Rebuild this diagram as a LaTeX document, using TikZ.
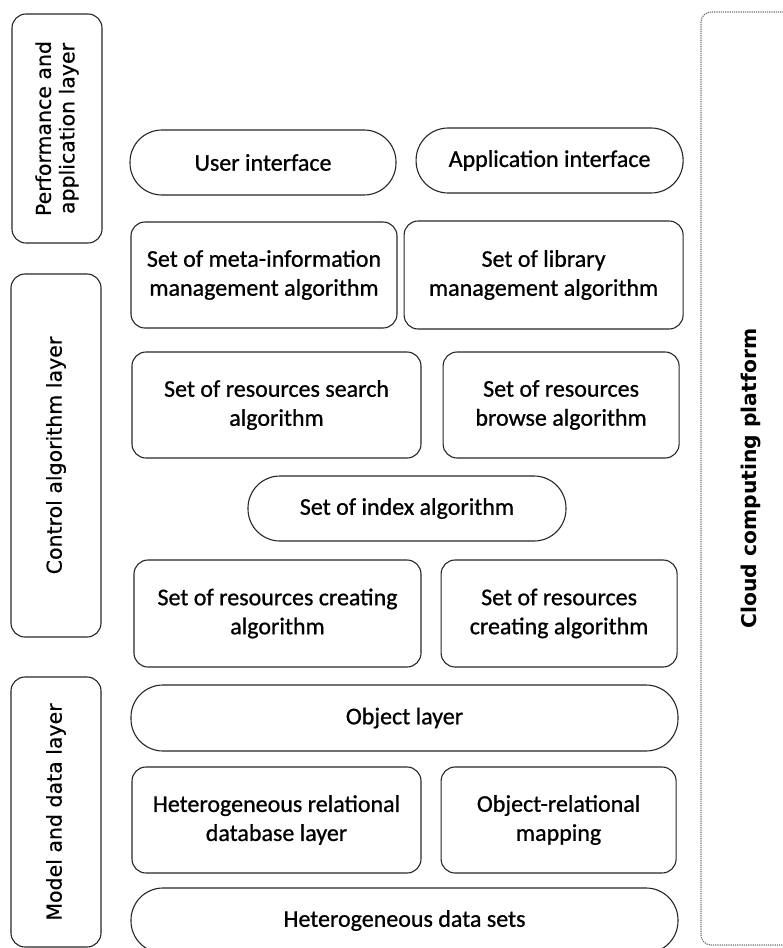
\documentclass[tikz,border=0pt]{standalone}
\usepackage{fontspec}
\setmainfont[FakeBold=0.8]{Carlito}
\newfontfamily\layerfont[FakeBold=0.4]{DejaVu Sans}
\newfontfamily\platformfont{DejaVu Sans}
\usetikzlibrary{positioning}

\begin{document}
\begin{tikzpicture}[
  x=1pt, y=-1pt,
  box/.style={
    draw=black!85,
    line width=1.1pt,
    align=center,
    inner sep=0pt,
    font=\fontsize{24}{29}\selectfont
  },
  algobox/.style={
    box,
    rounded corners=14pt
  },
  pill/.style={
    box,
    rounded corners=32pt,
    minimum height=65pt
  },
  layerbox/.style={
    box,
    rotate=90,
    rounded corners=14pt,
    minimum height=90pt,
    font=\layerfont\fontsize{20.5}{23.5}\selectfont
  },
  platform/.style={
    draw=black!55,
    densely dotted,
    line width=1.2pt,
    rotate=90,
    rounded corners=10pt,
    inner sep=0pt,
    font=\platformfont\bfseries\fontsize{20.3}{24}\selectfont
  }
]
\useasboundingbox (0,0) rectangle (783,948);

% layers on the left
\node[layerbox, minimum width=229pt] (perf) at (57,128.5) {Performance and\\application layer};
\node[layerbox, minimum width=363pt] (ctrl) at (56,455.5) {Control algorithm layer};
\node[layerbox, minimum width=270pt] (model) at (56,812) {Model and data layer};

% platform frame on the right
\node[platform, minimum width=933pt, minimum height=100pt] (cloud) at (751,478.5) {Cloud computing platform};

% performance and application layer
\node[pill, minimum width=266pt] (ui) at (263,162.5) {User interface};
\node[pill, minimum width=267pt, right=19pt of ui, yshift=2pt] (api) {Application interface};

% control algorithm layer
\node[algobox, minimum width=266pt, minimum height=106pt] (meta) at (264,275) {Set of meta-information\\management algorithm};
\node[algobox, minimum width=279pt, minimum height=108pt, right=6pt of meta] (lib) {Set of library\\management algorithm};
\node[algobox, minimum width=289pt, minimum height=106pt] (search) at (276.5,405) {Set of resources search\\algorithm};
\node[algobox, minimum width=236pt, minimum height=106pt, right=21pt of search] (browse) {Set of resources\\browse algorithm};
\node[pill, minimum width=318pt] (index) at (407,508.5) {Set of index algorithm};
\node[algobox, minimum width=287pt, minimum height=107pt] (create) at (277.5,613.5) {Set of resources creating\\algorithm};
\node[algobox, minimum width=236pt, minimum height=107pt, right=19pt of create] (create2) {Set of resources\\creating algorithm};

% model and data layer
\node[pill, minimum width=547pt, minimum height=66pt] (obj) at (404.5,718) {Object layer};
\node[algobox, minimum width=289pt, minimum height=106pt] (hrdb) at (276.5,820) {Heterogeneous relational\\database layer};
\node[algobox, minimum width=235pt, minimum height=106pt, right=19pt of hrdb] (orm) {Object-relational\\mapping};
\node[pill, minimum width=547pt] (data) at (404.5,920.5) {Heterogeneous data sets};

\end{tikzpicture}
\end{document}
